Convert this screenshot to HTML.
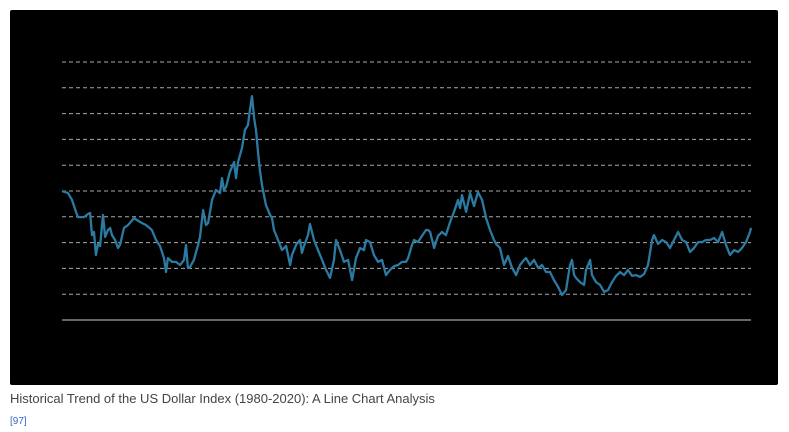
<!DOCTYPE html>
<html><head><meta charset="utf-8"><style>
body{margin:0;width:789px;height:432px;background:#fff;overflow:hidden;font-family:"Liberation Sans",sans-serif}
#card{position:absolute;left:10px;top:10px;width:768px;height:375px;background:#000;border-radius:2px}
#cap{position:absolute;left:10px;top:391px;font-size:13px;color:#444}
#ref{position:absolute;left:10px;top:416px;font-size:10px;color:#3366cc}
</style></head><body>
<div id="card"></div>
<svg id="chart" width="789" height="432" style="position:absolute;left:0;top:0"></svg>
<div id="cap">Historical Trend of the US Dollar Index (1980-2020): A Line Chart Analysis</div>
<div id="ref">[97]</div>
<script>
const years=[1980.00,1980.35,1980.58,1980.81,1980.93,1981.28,1981.51,1981.63,1981.74,1981.86,1981.97,1982.09,1982.21,1982.38,1982.50,1982.67,1982.79,1982.90,1983.08,1983.25,1983.37,1983.60,1983.83,1984.18,1984.53,1984.88,1985.22,1985.46,1985.69,1985.92,1986.04,1986.15,1986.39,1986.62,1986.85,1987.08,1987.20,1987.31,1987.43,1987.66,1987.90,1988.01,1988.19,1988.36,1988.48,1988.71,1988.94,1989.17,1989.29,1989.40,1989.52,1989.75,1989.99,1990.10,1990.22,1990.45,1990.62,1990.80,1990.91,1991.03,1991.15,1991.26,1991.38,1991.49,1991.61,1991.84,1992.08,1992.19,1992.31,1992.54,1992.77,1993.01,1993.24,1993.35,1993.59,1993.82,1993.93,1994.05,1994.28,1994.40,1994.63,1994.86,1995.10,1995.33,1995.56,1995.79,1995.91,1996.14,1996.37,1996.61,1996.84,1997.07,1997.30,1997.53,1997.65,1997.88,1998.11,1998.35,1998.58,1998.81,1999.04,1999.28,1999.51,1999.74,1999.97,2000.09,2000.32,2000.44,2000.67,2000.90,2001.13,2001.25,2001.37,2001.60,2001.83,2002.06,2002.29,2002.53,2002.76,2002.99,2003.11,2003.22,2003.46,2003.69,2003.92,2004.15,2004.39,2004.62,2004.85,2005.08,2005.20,2005.43,2005.66,2005.89,2006.13,2006.36,2006.59,2006.82,2006.94,2007.17,2007.40,2007.64,2007.87,2008.10,2008.33,2008.56,2008.80,2009.03,2009.26,2009.49,2009.61,2009.73,2009.84,2010.07,2010.31,2010.42,2010.66,2010.77,2011.00,2011.24,2011.47,2011.70,2011.93,2012.17,2012.40,2012.63,2012.86,2013.09,2013.33,2013.56,2013.79,2014.02,2014.26,2014.37,2014.60,2014.84,2015.07,2015.30,2015.53,2015.77,2016.00,2016.23,2016.46,2016.69,2016.93,2017.16,2017.39,2017.62,2017.86,2018.09,2018.32,2018.55,2018.78,2019.02,2019.25,2019.48,2019.71,2019.94,2020.00];
const values=[120,119.2,116.5,111.9,109.9,109.9,111.1,111.5,102.9,104.1,95.2,99.5,98.7,110.7,102.2,104.9,105.7,102.9,101,97.9,99.1,105.7,106.8,109.5,108,106.8,104.9,101,98.7,94,88.6,94,92.5,92.5,91.3,93.3,99.1,90.2,90.5,93.3,99.1,102.2,112.6,106.8,107.6,116.5,120.4,119.2,125,120.4,121.6,127.4,131.2,125,131.2,136.7,143.6,145.6,151.4,156.8,148.3,143.6,135.1,128.1,122.3,114.6,110.7,109.5,104.9,101,97.1,98.7,91.3,95.2,99.1,101,96,98.7,102.9,107.2,101,97.1,93.3,89.4,86.3,93.3,101,97.1,92.5,93.3,85.5,94,97.9,97.1,101,100.2,95.2,92.5,93.3,87.4,89.4,90.9,91.3,92.5,92.5,94,99.1,101,100.2,102.6,104.9,104.9,104.1,97.9,102.6,104.1,102.9,108,111.9,116.5,113.4,118.4,111.9,119.2,114.2,119.6,116.5,109.5,104.9,101,99.5,97.9,91.3,94.8,90.2,87.4,91.3,93.3,94,91.3,93.3,90.2,91.3,88.6,88.6,85.5,82.8,79.7,81.6,91.3,93.3,87.4,86.3,84.7,83.6,89.4,93.3,87.4,84.7,83.6,80.9,81.6,84.7,87.1,88.6,87.4,89.4,87.1,87.4,86.7,87.8,91.3,101,102.9,99.5,101,100.2,97.9,101,104.1,101,100.2,96.4,97.9,100.2,100.2,101,101,101.8,100.2,104.1,99.1,95.2,97.1,96.4,97.9,100.2,104.1,105.7];
const gridTicks=[80,90,100,110,120,130,140,150,160,170];
const X0=62,X1=751,Y0=320,Y1=62,xMin=1980,xMax=2020,yMin=70,yMax=170;
const xs=v=>X0+(v-xMin)/(xMax-xMin)*(X1-X0);
const ys=v=>Y0-(v-yMin)/(yMax-yMin)*(Y0-Y1);
const svg=document.getElementById('chart');const NS='http://www.w3.org/2000/svg';
gridTicks.forEach(t=>{const l=document.createElementNS(NS,'line');


l.setAttribute('x1',X0);l.setAttribute('x2',X1);l.setAttribute('y1',ys(t));l.setAttribute('y2',ys(t));
l.setAttribute('stroke','#a8a8a8');l.setAttribute('stroke-dasharray','4 3');l.setAttribute('stroke-width','1');svg.appendChild(l);});
const ax=document.createElementNS(NS,'line');


ax.setAttribute('x1',X0);ax.setAttribute('x2',X1);ax.setAttribute('y1',ys(yMin));ax.setAttribute('y2',ys(yMin));
ax.setAttribute('stroke','#888');ax.setAttribute('stroke-width','1.5');svg.appendChild(ax);
const p=document.createElementNS(NS,'polyline');


p.setAttribute('points',years.map((y,i)=>xs(y).toFixed(1)+','+ys(values[i]).toFixed(1)).join(' '));
p.setAttribute('fill','none');p.setAttribute('stroke','#2b7aa1');p.setAttribute('stroke-width','2.3');p.setAttribute('stroke-linejoin','round');
svg.appendChild(p);
</script>
</body></html>
